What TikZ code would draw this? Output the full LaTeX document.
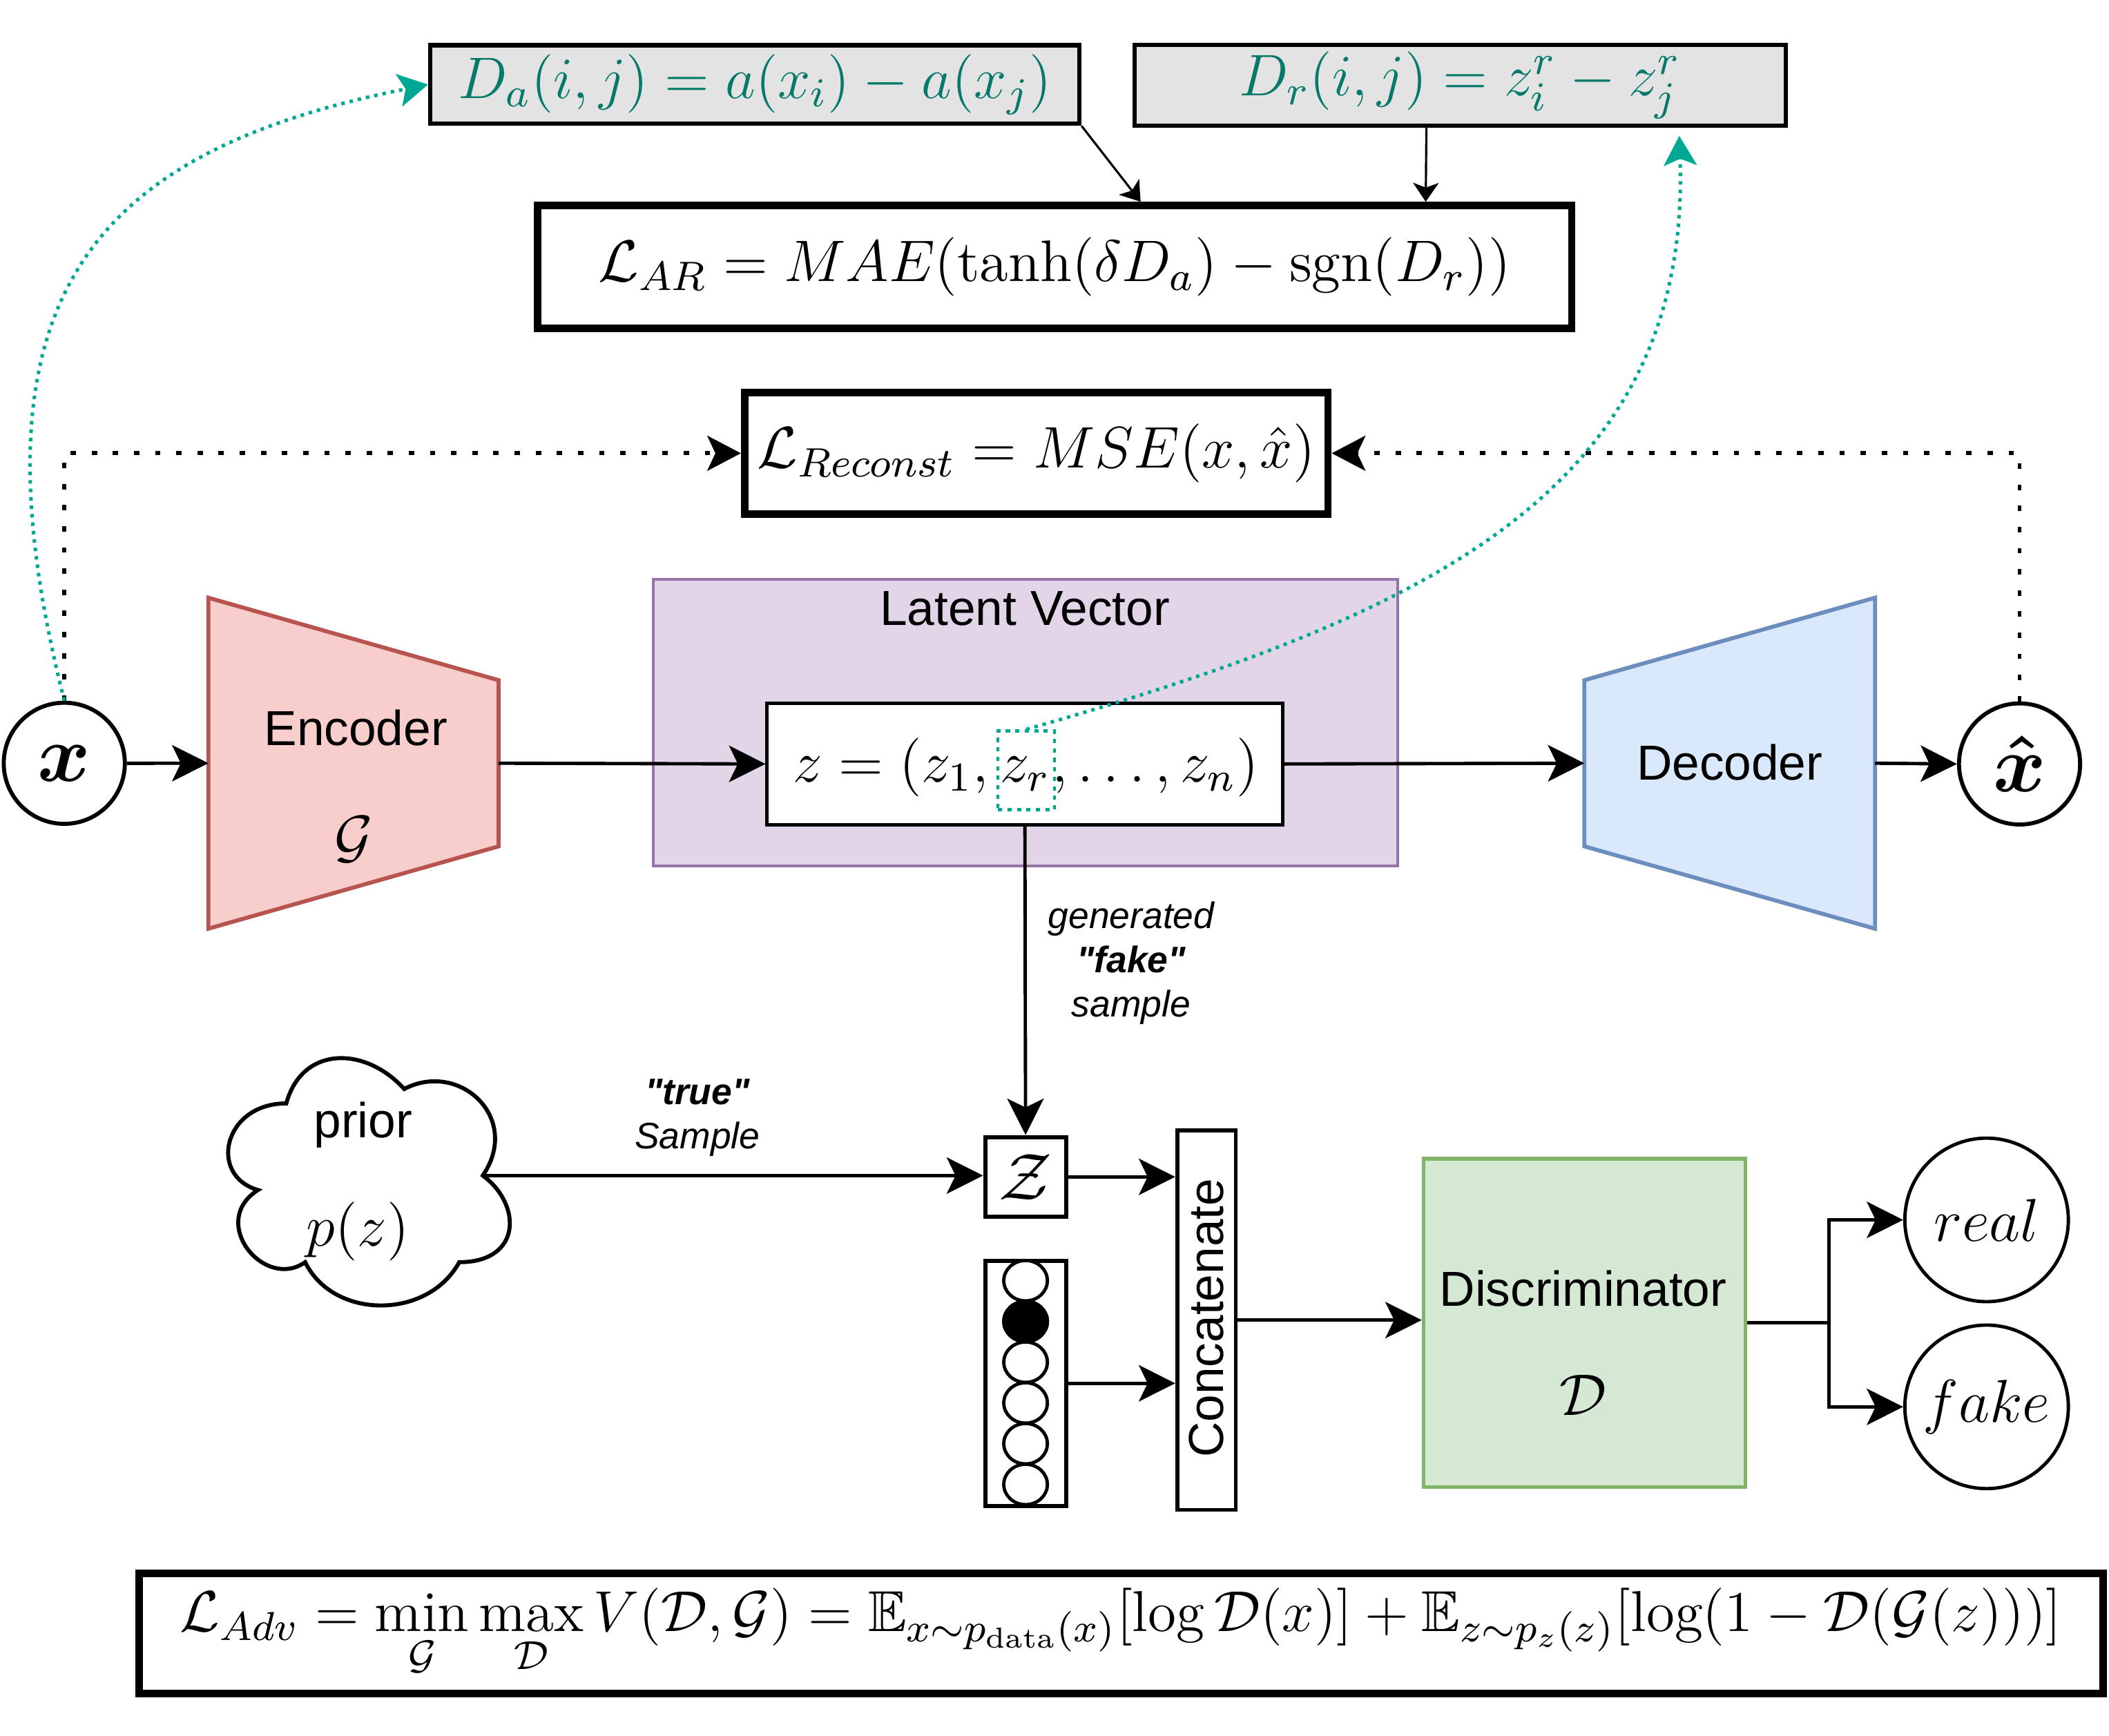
\RequirePackage{fix-cm}
\documentclass[tikz,border=0pt]{standalone}
\usepackage{amsmath,amssymb}
\usepackage{fontspec}
\newfontfamily\lsans{Liberation Sans}
\usetikzlibrary{arrows.meta,calc,shapes.geometric}
\definecolor{tealtext}{RGB}{6,122,106}
\definecolor{tealline}{RGB}{0,168,148}
\definecolor{boxgray}{RGB}{227,227,227}
\definecolor{latfill}{HTML}{E1D5E7}
\definecolor{latdraw}{HTML}{9673A6}
\definecolor{encfill}{HTML}{F8CECC}
\definecolor{encdraw}{HTML}{B85450}
\definecolor{decfill}{HTML}{DAE8FC}
\definecolor{decdraw}{HTML}{6C8EBF}
\definecolor{disfill}{HTML}{D5E8D4}
\definecolor{disdraw}{HTML}{82B366}
\begin{document}
\begin{tikzpicture}[x=0.01cm, y=-0.01cm, line join=miter,
  conn/.style={line width=0.71pt, -{Stealth[length=0.27cm, width=0.27cm, inset=0.065cm]}},
  plainline/.style={line width=0.71pt},
  thinconn/.style={line width=0.46pt, -{Stealth[length=0.14cm, width=0.19cm, inset=0.035cm]}},
  dotconn/.style={line width=0.85pt, dash pattern=on 1.14pt off 3.33pt, -{Stealth[length=0.25cm, width=0.26cm, inset=0.06cm]}},
  tealconn/.style={draw=tealline, line width=0.74pt, dash pattern=on 0.74pt off 1.05pt, -{Stealth[length=0.22cm, width=0.245cm, inset=0.05cm]}},
  mathtxt/.style={font=\fontsize{12.4}{15}\selectfont, inner sep=0pt},
  bigsans/.style={font=\lsans\fontsize{10.4}{12.5}\selectfont, inner sep=0pt},
  smallsans/.style={font=\lsans\fontsize{7.8}{9.4}\selectfont, inner sep=0pt, align=center},
  gbox/.style={draw, line width=0.9pt, fill=boxgray, inner sep=0pt, text=tealtext, font=\fontsize{12.4}{15}\selectfont},
  lossbox/.style={draw, line width=1.56pt, fill=white, inner sep=0pt, font=\fontsize{12.4}{15}\selectfont},
  ghost/.style={inner sep=0pt, outer sep=0pt},
  hotcirc/.style={ellipse, draw, line width=0.7pt, fill=white, minimum width=0.324cm, minimum height=0.3cm, inner sep=0pt},
  ioc/.style={circle, draw, line width=0.85pt, fill=white, minimum size=0.9cm, inner sep=0pt, font=\fontsize{17}{20}\selectfont},
  outc/.style={circle, draw, line width=0.71pt, fill=white, minimum size=1.215cm, inner sep=0pt, font=\fontsize{12.8}{15}\selectfont}
]
\useasboundingbox (0,0) rectangle (1568,1290.7);

% top boxes
\node[gbox, minimum width=4.824cm, minimum height=0.584cm] (Da) at (561.2,62.8) {$D_a(i,j) = a(x_i) - a(x_j)$};
\node[gbox, minimum width=4.84cm, minimum height=0.60cm] (Dr) at (1085.5,63.5) {$D_r(i,j) = z^r_i - z^r_j$};
\node[lossbox, minimum width=7.685cm, minimum height=0.915cm] (LAR) at (784,198.5) {$\mathcal{L}_{AR} = MAE(\tanh(\delta D_a) - \operatorname{sgn}(D_r))$};
\node[lossbox, minimum width=4.335cm, minimum height=0.905cm] (Lrec) at (770.5,337) {$\mathcal{L}_{Reconst} = MSE(x,\hat{x})$};

% latent vector
\node[draw=latdraw, fill=latfill, line width=0.65pt, minimum width=5.53cm, minimum height=2.13cm, inner sep=0pt] (latent) at (762.5,537.25) {};
\node[bigsans, anchor=base] (lattxt) at (762,465) {Latent Vector};
\node[draw, fill=white, line width=0.74pt, minimum width=3.83cm, minimum height=0.905cm, inner sep=0pt] (zbox) at (762,568) {};
\node[mathtxt, anchor=base west] (zr) at (743,581.5) {$z_r$};
\node[mathtxt, anchor=base east] (zleft) at (zr.base west) {$z=(z_1,\,$};
\node[mathtxt, anchor=base west] (zright) at (zr.base east) {$,\ldots,z_n)$};
\node[draw=tealline, line width=0.65pt, dash pattern=on 0.9pt off 1.1pt, minimum width=0.42cm, minimum height=0.585cm, inner sep=0pt] (zrbox) at (763,572.7) {};

% input / output circles
\node[ioc] (xin) at (47.8,567.5) {$\boldsymbol{x}$};
\node[ioc] (xhat) at (1501.5,568) {$\boldsymbol{\hat{x}}$};

% encoder
\node[ghost, minimum width=2.156cm, minimum height=2.459cm] (enc) at (262.8,567.45) {};
\draw[draw=encdraw, fill=encfill, line width=0.85pt] (enc.north west) -- ($(enc.north east)+(0,61.3)$) -- ($(enc.south east)+(0,-61.2)$) -- (enc.south west) -- cycle;
\node[bigsans, anchor=base] (enctxt) at (264.5,554) {Encoder};
\node[mathtxt, anchor=base] (encG) at (263,637) {$\mathcal{G}$};

% decoder
\node[ghost, minimum width=2.16cm, minimum height=2.459cm] (dec) at (1286,567.45) {};
\draw[draw=decdraw, fill=decfill, line width=0.85pt] ($(dec.north west)+(0,61.3)$) -- (dec.north east) -- (dec.south east) -- ($(dec.south west)+(0,-61.2)$) -- cycle;
\node[bigsans, anchor=base] (dectxt) at (1286,580) {Decoder};

% prior cloud
\node[ghost, minimum width=2.336cm, minimum height=2.145cm] (cloud) at (271.3,874.05) {};
\begin{scope}[shift={(cloud.north west)}, x=2.336cm, y=-2.145cm]
  \draw[line width=0.85pt, fill=white] (0.25,0.25) .. controls (0.05,0.25) and (0,0.5) .. (0.16,0.55)
    .. controls (0,0.66) and (0.18,0.9) .. (0.31,0.8)
    .. controls (0.4,1) and (0.7,1) .. (0.8,0.8)
    .. controls (1,0.8) and (1,0.6) .. (0.875,0.5)
    .. controls (1,0.3) and (0.8,0.1) .. (0.625,0.2)
    .. controls (0.5,0.05) and (0.3,0.05) .. (0.25,0.25) -- cycle;
  \coordinate (cloudE) at (0.875,0.5);
\end{scope}
\node[bigsans, anchor=base] (priortxt) at (270,845.7) {prior};
\node[mathtxt] (pz) at (266,915.7) {$p(z)$};

% sample z, one-hot, concatenate
\node[draw, line width=0.9pt, fill=white, minimum width=0.6cm, minimum height=0.59cm, inner sep=0pt, font=\fontsize{14}{16}\selectfont] (zsmall) at (762.5,875) {$\mathcal{Z}$};
\node[draw, line width=0.9pt, fill=white, minimum width=0.6cm, minimum height=1.82cm, inner sep=0pt] (onehot) at (762.5,1028.5) {};
\foreach \k in {0,...,5} {
  \node[hotcirc] (oh\k) at (762.5,952.2+30.3*\k) {};
}
\node[hotcirc, fill=black] (ohfill) at (oh1) {};
\node[draw, line width=0.85pt, fill=white, minimum width=0.435cm, minimum height=2.82cm, inner sep=0pt] (concat) at (897,981.5) {};
\node[bigsans, rotate=90] (cattxt) at (897,980) {Concatenate};

% discriminator
\node[draw=disdraw, fill=disfill, line width=0.8pt, minimum width=2.39cm, minimum height=2.44cm, inner sep=0pt] (disc) at (1178,983.5) {};
\node[bigsans, anchor=base] (disctxt) at (1177,971) {Discriminator};
\node[mathtxt, anchor=base] (discD) at (1177,1052) {$\mathcal{D}$};

\node[outc] (real) at (1477,907) {$real$};
\node[outc] (fake) at (1477,1046) {$fake$};

% adversarial loss
\node[lossbox, minimum width=14.595cm, minimum height=0.895cm, font=\fontsize{12.2}{15}\selectfont] (Ladv) at (833.5,1214.5) {$\mathcal{L}_{Adv} = \min\limits_{\mathcal{G}}\max\limits_{\mathcal{D}} V(\mathcal{D},\mathcal{G}) = \mathbb{E}_{x\sim p_{\text{data}}(x)}[\log\mathcal{D}(x)] + \mathbb{E}_{z\sim p_z(z)}[\log(1-\mathcal{D}(\mathcal{G}(z)))]$};

% labels
\node[smallsans] (fakelbl) at (841,716) {\itshape generated\\\bfseries\itshape "fake"\\\itshape sample};
\node[smallsans] (truelbl) at (518.5,831) {\bfseries\itshape "true"\\\mdseries\itshape Sample};

% connectors
\draw[conn] (xin.east) -- (enc.west);
\draw[conn] (enc.east) -- (zbox.west);
\draw[conn] (zbox.east) -- (dec.west);
\draw[conn] (dec.east) -- (xhat.west);
\draw[conn] (zbox.south) -- (zsmall.north);
\draw[conn] (cloudE) -- (cloudE -| zsmall.west);
\draw[conn] (zsmall.east) -- (zsmall.east -| concat.west);
\draw[conn] (onehot.east) -- (onehot.east -| concat.west);
\draw[conn] (concat.east) -- (concat.east -| disc.west);
\coordinate (split) at ($(disc.east)+(61,0)$);
\draw[plainline] (disc.east) -- (split);
\draw[conn] (split) |- (real.west);
\draw[conn] (split) |- (fake.west);

\draw[thinconn] (Da.south east) -- ($(LAR.north)+(64,0)$);
\draw[thinconn] ($(Dr.south)+(-25,0)$) -- ($(LAR.north)+(276,0)$);

\draw[dotconn] (xin.north) |- (Lrec.west);
\draw[dotconn] (xhat.north) |- (Lrec.east);

% teal dotted curves
\coordinate (tealend) at (1248.5,101);
\draw[tealconn] (xin.north) .. controls (-28,221) and (68,113) .. (Da.west);
\draw[tealconn] (zrbox.north) .. controls (1050,460) and (1258,370) .. (tealend);
\end{tikzpicture}
\end{document}
